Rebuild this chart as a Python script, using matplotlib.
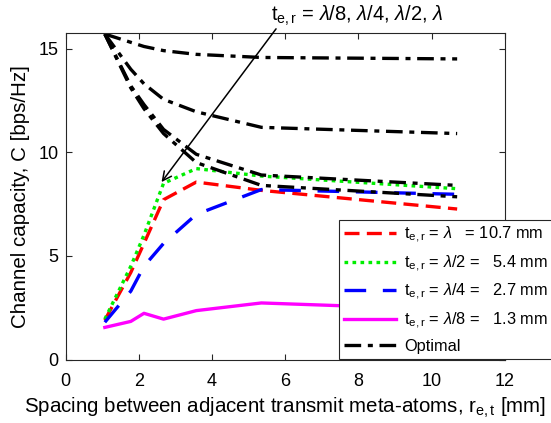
import matplotlib
matplotlib.use("Agg")
import matplotlib.pyplot as plt

plt.rcParams['font.family'] = ['Liberation Sans', 'DejaVu Sans']
plt.rcParams['mathtext.fontset'] = 'custom'
plt.rcParams['mathtext.rm'] = 'Liberation Sans'
plt.rcParams['mathtext.it'] = 'Liberation Sans:italic'

# spacing values r_e,t [mm]
x = [1.07, 1.78, 2.14, 2.675, 3.57, 5.35, 10.7]

cap_lambda = [1.90, 4.20, 5.60, 7.71, 8.56, 8.16, 7.26]
cap_lambda2 = [1.95, 4.50, 6.00, 8.50, 9.21, 8.85, 8.24]
cap_lambda4 = [1.80, 3.30, 4.50, 5.60, 7.00, 8.20, 7.97]
cap_lambda8 = [1.55, 1.84, 2.23, 1.95, 2.36, 2.73, 2.40]

opt_lambda8 = [15.70, 15.30, 15.10, 14.90, 14.72, 14.57, 14.50]
opt_lambda4 = [15.70, 14.00, 13.30, 12.55, 11.95, 11.20, 10.90]
opt_lambda2 = [15.70, 13.20, 12.30, 11.10, 9.90, 8.90, 8.40]
opt_lambda = [15.70, 13.10, 12.10, 10.90, 9.50, 8.40, 7.85]

labels = [r'$\mathregular{t_{e,r}}$ = $\lambda$   = 10.7 mm',
          r'$\mathregular{t_{e,r}}$ = $\lambda$/2 =   5.4 mm',
          r'$\mathregular{t_{e,r}}$ = $\lambda$/4 =   2.7 mm',
          r'$\mathregular{t_{e,r}}$ = $\lambda$/8 =   1.3 mm',
          'Optimal']

fig = plt.figure(figsize=(5.51, 4.23), dpi=100)
ax = fig.add_axes([0.1192, 0.150, 0.7968, 0.771])

lw = 2.4
h1, = ax.plot(x, cap_lambda, color='#ff0000', lw=lw, dashes=(4.5, 2.2))
h2, = ax.plot(x, cap_lambda2, color='#00ee00', lw=lw, dashes=(1.1, 1.3))
h3, = ax.plot(x, cap_lambda4, color='#0000ff', lw=lw, dashes=(6.5, 5.0))
h4, = ax.plot(x, cap_lambda8, color='#ff00ff', lw=lw)
dd = (5.0, 2.0, 1.5, 2.0)
h5, = ax.plot(x, opt_lambda8, color='black', lw=lw, dashes=dd)
ax.plot(x, opt_lambda4, color='black', lw=lw, dashes=dd)
ax.plot(x, opt_lambda2, color='black', lw=lw, dashes=dd)
ax.plot(x, opt_lambda, color='black', lw=lw, dashes=dd)

ax.set_xlim(0, 12)
ax.set_ylim(0, 15.73)
ax.set_xticks([0, 2, 4, 6, 8, 10, 12])
ax.set_yticks([0, 5, 10, 15])
ax.tick_params(direction='in', top=True, right=True, labelsize=13,
               length=4, width=0.8, color='#262626', pad=5)
ax.tick_params(axis='x', pad=10)
for s in ax.spines.values():
    s.set_color('#262626')
    s.set_linewidth(0.8)

ax.set_xlabel(r'Spacing between adjacent transmit meta-atoms, $\mathregular{r_{e,t}}$ [mm]',
              fontsize=14.8, labelpad=4)
ax.set_ylabel('Channel capacity, C [bps/Hz]', fontsize=14.8, labelpad=6)

ax.annotate('', xy=(2.62, 8.56), xytext=(5.75, 15.95),
            arrowprops=dict(arrowstyle='->', color='black', lw=1.1,
                            mutation_scale=16, shrinkA=0, shrinkB=0),
            annotation_clip=False)
ax.text(5.6, 16.0, r'$\mathregular{t_{e,r}}$ = $\lambda$/8, $\lambda$/4, $\lambda$/2, $\lambda$',
        fontsize=14.5, ha='left', va='bottom', clip_on=False)

leg = ax.legend([h1, h2, h3, h4, h5], labels, loc='upper left',
                bbox_to_anchor=(0.6226, 0.4277), borderaxespad=0,
                fontsize=11.8, handlelength=3.2, handletextpad=0.45,
                labelspacing=0.5, borderpad=0.3, fancybox=False,
                framealpha=1, edgecolor='#262626')
leg.get_frame().set_linewidth(0.8)

fig.savefig('out.png', dpi=100)
